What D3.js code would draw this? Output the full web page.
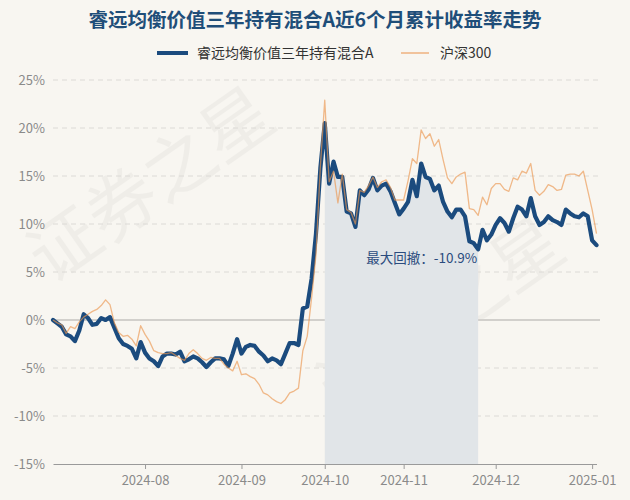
<!DOCTYPE html>
<html>
<head>
<meta charset="utf-8">
<script src="https://cdn.jsdelivr.net/npm/d3@7"></script>
<style>
  body { margin: 0; background: #f8f6f1; }
  svg { display: block; font-family: "Noto Sans CJK SC", "Noto Sans", sans-serif; }
</style>
</head>
<body>
<script>
const width = 630;
const height = 500;

const title = "睿远均衡价值三年持有混合A近6个月累计收益率走势";
const seriesNames = ["睿远均衡价值三年持有混合A", "沪深300"];

// cumulative return (%) per trading day, 2024-07-03 .. 2025-01-03
const fundValues = [
    0, -0.35, -0.7, -1.5, -1.7, -2.2, -1.1, 0.6, 0.2, -0.5,
    -0.4, 0.2, 0.0, 0.3, -0.8, -1.9, -2.5, -2.7, -3.0, -4.0,
    -2.3, -3.4, -4.0, -4.3, -4.8, -3.8, -3.5, -3.5, -3.6, -3.3,
    -4.3, -4.1, -3.8, -4.0, -4.4, -4.9, -4.4, -4.0, -4.0, -4.1,
    -4.8, -3.5, -2.0, -3.5, -2.8, -2.6, -2.7, -3.3, -3.7, -4.3,
    -4.0, -4.2, -4.6, -3.5, -2.4, -2.4, -2.6, 1.2, 1.4, 4.3,
    9.0, 15.8, 20.5, 14.2, 16.5, 14.9, 14.9, 11.3, 11.1, 9.7,
    13.5, 13.0, 13.6, 14.8, 13.5, 14.0, 14.2, 13.4, 12.2, 11.0,
    11.6, 12.3, 14.6, 12.9, 16.3, 14.9, 14.7, 13.5, 14.0, 12.3,
    11.3, 10.7, 11.5, 11.5, 10.8, 8.2, 8.0, 7.36, 9.4, 8.3,
    8.9, 9.9, 10.6, 10.1, 9.2, 10.6, 11.8, 11.5, 10.8, 12.7,
    10.8, 9.9, 10.2, 10.8, 10.4, 10.2, 9.9, 11.5, 11.1, 10.8,
    10.7, 11.1, 10.8, 8.3, 7.8
];
const hs300Values = [
    0, -0.3, -0.5, -1.4, -0.7, -0.9, -0.2, 0.3, 0.6, 0.9,
    1.1, 1.5, 2.1, 1.6, -0.3, -1.3, -1.7, -1.6, -2.0, -2.7,
    -0.6, -1.5, -2.2, -3.2, -3.4, -3.5, -3.5, -3.4, -3.7, -4.0,
    -4.2, -3.5, -3.1, -3.5, -4.0, -4.2, -3.9, -4.0, -4.0, -4.6,
    -5.0, -5.3, -4.3, -5.7, -5.6, -5.9, -6.1, -6.7, -7.6, -7.8,
    -8.2, -8.5, -8.7, -8.3, -7.6, -7.4, -7.1, -3.2, -1.7, 2.3,
    6.8, 16.0, 22.9, 14.4, 15.5, 12.2, 15.2, 11.5, 11.2, 10.0,
    13.5, 13.3, 14.0, 14.9, 13.8, 14.4, 14.6, 13.8, 12.5, 12.5,
    12.5, 14.5, 16.8, 16.3, 19.8, 18.9, 19.4, 18.1, 18.8, 16.7,
    14.8, 14.2, 14.9, 15.2, 15.4, 11.6, 11.5, 10.9, 12.8, 12.0,
    13.7, 14.2, 14.2, 13.6, 13.4, 14.8, 14.6, 15.5, 15.3, 16.3,
    13.5, 13.0, 13.4, 14.1, 13.9, 13.5, 13.6, 15.1, 15.2, 15.2,
    15.0, 15.5, 13.5, 11.5, 9.0
];

// x tick labels and the trading-day index they sit on
const tickLabels = ["2024-08", "2024-09", "2024-10", "2024-11", "2024-12", "2025-01"];
const tickIndex = [21, 43, 62, 80, 101, 123];
const yTicks = [-15, -10, -5, 0, 5, 10, 15, 20, 25];

const blue = "#1b4b7e";
const orange = "#eb9650";

const svg = d3.select("body").append("svg")
    .attr("width", width).attr("height", height)
    .style("background-color", "#f8f6f1");

// watermark, kept inside the frame
[[165, 205], [455, 335]].forEach(p => {
    svg.append("text")
        .attr("transform", "translate(" + p[0] + "," + p[1] + ") rotate(-35)")
        .attr("font-size", 70).attr("fill", "#000").attr("opacity", 0.03)
        .attr("text-anchor", "middle")
        .text("证券之星");
});

const xScale = d3.scaleLinear()
    .domain([0, fundValues.length - 1])
    .range([53, 596.5]);

const yScale = d3.scaleLinear()
    .domain([-15, 25])
    .range([464, 80]);

// gridlines
svg.append("g").selectAll("line").data(yTicks.filter(d => d !== -15)).enter().append("line")
    .attr("x1", 53).attr("x2", 600)
    .attr("y1", d => yScale(d)).attr("y2", d => yScale(d))
    .attr("stroke", d => d === 0 ? "#d2d0cc" : "#dcdad6")
    .attr("stroke-width", d => d === 0 ? 2 : 1)
    .attr("stroke-dasharray", d => d === 0 ? null : "5,4");

// max drawdown: peak before trough
let peak = 0, best = 0, ddStart = 0, ddEnd = 0;
fundValues.forEach((v, i) => {
    if (v > fundValues[peak]) peak = i;
    const dd = (1 + v / 100) / (1 + fundValues[peak] / 100) - 1;
    if (dd < best) { best = dd; ddStart = peak; ddEnd = i; }
});

const ddIdx = d3.range(ddStart, ddEnd + 1);
svg.append("path")
    .datum(ddIdx)
    .attr("fill", "#e1e5e8")
    .attr("d", d3.area()
        .x(i => xScale(i))
        .y0(yScale(-15))
        .y1(i => yScale(fundValues[i])));

svg.append("text")
    .attr("x", xScale(ddEnd) - 1).attr("y", 263)
    .attr("text-anchor", "end")
    .attr("font-size", 13.5).attr("fill", "#2b4c7e")
    .text("最大回撤：" + (best * 100).toFixed(1) + "%");

// axes
const xAxis = d3.axisBottom(xScale)
    .tickValues(tickIndex)
    .tickFormat((d, i) => tickLabels[i])
    .tickSizeInner(5).tickSizeOuter(0);

const gx = svg.append("g")
    .attr("transform", "translate(0," + yScale(-15) + ")")
    .call(xAxis);
gx.select(".domain").attr("stroke", "#9a9a9a").attr("stroke-width", 1.2);
gx.selectAll(".tick line").attr("stroke", "#9a9a9a");
gx.selectAll(".tick text").attr("font-size", 13).attr("fill", "#8a8a8a")
    .attr("font-family", "Noto Sans CJK SC").attr("dy", "1em");

const yAxis = d3.axisLeft(yScale)
    .tickValues(yTicks)
    .tickFormat(d => d + "%")
    .tickSize(0);

const gy = svg.append("g")
    .attr("transform", "translate(45,0)")
    .call(yAxis);
gy.select(".domain").remove();
gy.selectAll(".tick text").attr("font-size", 13).attr("fill", "#8a8a8a")
    .attr("font-family", "Noto Sans CJK SC").attr("x", 0);

// lines
const line = d3.line()
    .x((d, i) => xScale(i))
    .y(d => yScale(d));

svg.append("path")
    .datum(fundValues)
    .attr("fill", "none")
    .attr("stroke", blue).attr("stroke-width", 4.2)
    .attr("stroke-linejoin", "round").attr("stroke-linecap", "round")
    .attr("d", line);

svg.append("path")
    .datum(hs300Values)
    .attr("fill", "none")
    .attr("stroke", orange).attr("stroke-width", 1.3).attr("stroke-opacity", 0.65)
    .attr("stroke-linejoin", "round")
    .attr("d", line);

// title
svg.append("text")
    .attr("x", width / 2).attr("y", 27)
    .attr("text-anchor", "middle")
    .attr("font-size", 19.5).attr("font-weight", "bold").attr("fill", "#1f4e79")
    .text(title);

// legend
svg.append("line").attr("x1", 157).attr("x2", 188).attr("y1", 53).attr("y2", 53)
    .attr("stroke", blue).attr("stroke-width", 4);
svg.append("text").attr("x", 197).attr("y", 58)
    .attr("font-size", 14).attr("fill", "#333")
    .text(seriesNames[0]);

svg.append("line").attr("x1", 401).attr("x2", 429).attr("y1", 53).attr("y2", 53)
    .attr("stroke", orange).attr("stroke-width", 1.5).attr("stroke-opacity", 0.7);
svg.append("text").attr("x", 440).attr("y", 58)
    .attr("font-size", 14).attr("fill", "#333")
    .text(seriesNames[1]);
</script>
</body>
</html>
